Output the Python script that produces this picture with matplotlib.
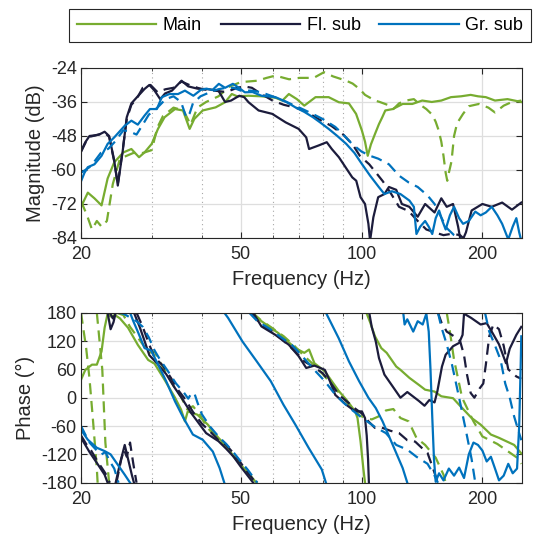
import matplotlib.pyplot as plt
import matplotlib.ticker as ticker
import numpy as np

plt.rcParams['font.family'] = ['Liberation Sans', 'DejaVu Sans']
plt.rcParams['axes.unicode_minus'] = False

nan = np.nan
green = '#77ac30'
navy = '#1c1c3c'
blue = '#0072bd'

# ---- magnitude (Hz, dB) ----
main_mag = np.array([(20,-73),(20.8,-68),(21.6,-70),(22.5,-72.5),(23.3,-63),(24.2,-57.3),(25.5,-53.8),
    (26.7,-52.6),(27.9,-55.5),(28.8,-53.8),(30,-50.8),(31.1,-45.5),(32.3,-41.4),(34.3,-38.5),(35.9,-39),
    (37.3,-45.5),(38.3,-42),(40.2,-39),(43.3,-37.9),(45.7,-36.1),(47.5,-33.2),(49,-34),(52.3,-33.8),
    (56.3,-34),(61,-34.5),(63.5,-35.5),(65.9,-33.2),(69,-35),(72,-37.3),(76.8,-34.3),(82.8,-34.3),
    (87.8,-36.1),(93,-36.5),(96.9,-40.2),(100.2,-46.1),(102,-50),(103.6,-55),(105.5,-51),(108,-47.3),
    (110.5,-43.8),(112.6,-41.4),(114.6,-39),(119.6,-38.5),(126.6,-36.7),(133.8,-36.7),(141.6,-35.5),
    (149.6,-36),(158,-35.5),(167,-34.3),(177,-34),(187,-33.5),(195,-34),(204,-34.3),(215,-35.5),
    (231,-35),(250,-36)])
main_dash_mag = np.array([(20,-71),(20.7,-76),(21.3,-81),(21.9,-78),(22.5,-80),(23.2,-78),(24,-65),
    (25,-56),(27,-54),(28.5,-54),(30,-53),(31,-45),(32,-41),(34,-38),(36,-39),(37.5,-44),(39,-38),
    (41,-36),(44,-34),(47,-30.5),(50,-29),(55,-28.5),(58,-27.5),(61,-26.7),(66,-28),(70,-27.5),
    (76,-27.5),(80.6,-25.5),(85,-27),(91.6,-28.5),(95,-29.5),(99,-31.5),(102,-33.5),(108,-35.5),
    (111,-36),(116,-37),(120,-38.5),(124,-36.5),(129,-35.5),(135,-35),(140,-37),(145,-38.5),
    (150,-40.5),(153,-43),(155.6,-46),(158,-50),(160,-55),(162,-61),(163.5,-63.8),(165,-61),
    (167.5,-57),(170,-48),(173,-43.5),(179,-40.2),(185,-37.5),(196,-36.7),(207,-38),(215,-39.7),
    (226,-37.3),(236,-36.1),(250,-35.5)])
fl_mag = np.array([(20,-53.4),(20.5,-50.2),(21,-48),(21.6,-47.8),(22.2,-47.5),(22.9,-46.5),(23.5,-48),
    (24.2,-56.7),(24.7,-65.5),(25.4,-53.4),(26,-41.4),(26.7,-36.5),(27.7,-34),(28.8,-31.4),(29.6,-30),
    (30.5,-32),(31.5,-35),(32.4,-33),(33.7,-32),(35.6,-28.5),(37,-30.5),(39,-31.3),(41.5,-31.5),
    (44,-32),(45.7,-36),(47.3,-35.5),(49.6,-33.8),(51,-34.3),(52.3,-36.1),(55.4,-39),(59.9,-40.2),
    (64.7,-43.2),(69.7,-45.5),(72.8,-48.5),(74,-52.6),(78,-51.4),(81.9,-50.2),(84.3,-52.6),
    (87.8,-55.5),(94.8,-62.6),(97,-63.8),(99.4,-69.6),(102,-72),(104,-79),(105,-85),(107,-76.7),
    (110,-69.6),(114,-68.5),(117,-66),(122,-67),(126,-72),(131.5,-73),(138,-76.5),(144,-72),
    (152,-75),(158,-70),(163,-73),(169,-72),(174,-80),(177,-86),(182,-82),(188,-74.3),(200,-72),
    (211,-73),(224,-71.5),(237,-74),(250,-71.5)])
fl_dash_mag = np.array([(20,-53.6),(20.5,-50.5),(21,-48.3),(22,-47.6),(22.9,-46.8),(23.5,-48.3),
    (24.2,-57),(24.7,-65),(25.4,-53),(26,-42),(26.7,-37),(27.5,-35),(28.5,-31),(29.8,-30),(31,-32.5),
    (32.5,-31.5),(34,-31),(35.6,-28.8),(37.5,-30.2),(40,-31.5),(43,-32),(46,-32.5),(49,-31),
    (51,-30.5),(53.3,-31),(56,-33),(60,-35.5),(64,-37),(68.5,-38),(73,-39.5),(78,-42),(84,-44.4),
    (90,-47.5),(95,-51),(99,-55),(104.5,-58),(108,-60.5),(113,-64),(118,-68),(124,-73),(131,-74.5),
    (138,-78),(145,-81),(152,-82),(160,-83),(168,-82.5),(176,-83),(182,-85),(190,-86)])
gr_mag = np.array([(20,-64),(20.4,-61),(20.8,-59),(21.6,-58),(22.5,-55),(23.3,-50.8),(24.2,-48.5),
    (25.7,-44.4),(26.7,-42.6),(27.7,-44),(28.8,-40.8),(29.7,-38.5),(30.9,-38.5),(31.8,-34.3),
    (33.2,-33.2),(34.9,-33.2),(36.3,-32),(38.1,-33.8),(39.8,-31.7),(41.1,-31.3),(42.5,-31.8),
    (44.1,-29.6),(45.7,-31),(47.8,-29.6),(49.5,-31),(51.2,-32.6),(53.5,-32.5),(56.3,-33.8),
    (61,-34.3),(65,-36),(68.4,-37.9),(72,-39.5),(75.7,-41.4),(79,-43.3),(82.8,-45.5),(87,-48),
    (91.6,-50.8),(96,-54),(100.2,-57.9),(105,-62),(110.5,-66.1),(114,-68.5),(119,-67.5),(125,-68.5),
    (131.6,-70.8),(135,-73),(137,-82.6),(140,-80),(144,-78),(147,-80),(150,-82.6),(153,-77),
    (156,-74.3),(159,-78),(162,-81),(166,-76),(170,-73),(175,-77),(179,-79),(185,-78),(192,-74.7),
    (198,-76),(204,-75),(211,-73),(218,-76),(224,-79),(232,-84.5),(238,-80),(243,-77),(247,-82),
    (250,-85)])
gr_dash_mag = np.array([(20,-61),(20.5,-60),(21,-59),(21.6,-57),(22.4,-54),(23.4,-52.5),(24.3,-50),
    (25.5,-46),(26.5,-46.5),(27.5,-47.5),(28.5,-44),(29.5,-40.5),(31,-38),(32.5,-35),(34,-34),
    (35.5,-36),(36.6,-41.5),(37.3,-40),(38,-36.5),(39.7,-34),(42,-32.5),(44,-31.5),(46,-31),(48,-31),
    (50,-32),(53,-32),(56,-32.5),(60,-34),(65,-36),(70,-38),(75,-40),(80,-42),(86,-44.8),(90,-47.5),
    (95,-51),(100,-53.5),(105,-55),(110,-56),(117,-58),(124,-62),(131,-64.4),(138,-66),(146,-69),
    (152,-72),(157,-76),(163,-80.5),(170,-83),(180,-85)])

# ---- phase (Hz, deg), wrapped as drawn, nan = break ----
main_ph = np.array([(20,38),(20.5,59),(21.3,70),(21.9,70),(22.5,98),(22.9,148),(23.3,178),(23.7,172),
    (24.3,175),(25,168),(26.2,148),(27.7,112),(29.4,80),(30.5,72),(32.3,38),(34.3,0),(35.5,-25),
    (36.3,-50),(36.9,-29),(39,-36),(41.4,-57),(44,-85),(46.5,-106),(48,-125),(50.5,-146),(54.7,-180),
    (nan,nan),(53,180),(56.3,162),(62,137),(64.7,123),(68.4,105),(72,95),(74,102),(76.3,73),(81,56),
    (84.3,35),(87.8,14),(91.6,-4),(96.4,-29),(97.7,-43),(99.4,-92),(101,-149),(102,-180),
    (nan,nan),(102.8,180),(105,160),(108,130),(112,105),(115.5,95),(122,66),(125,59),(131.6,42),
    (139,27),(144,17),(152,13),(158,3),(169,-1),(175,-15),(188,-43),(198,-57),(210,-78),(220,-85),
    (240,-100),(250,-118)])
main_dash_ph = np.array([(20,180),(20.6,105),(21,40),(21.4,-43),(21.9,-150),(22,-180),
    (nan,nan),(21.9,180),(22.6,59),(23,-95),(23.5,-180),
    (nan,nan),(24.5,180),(25.5,175),(26.5,150),(28,122),(29.5,95),(30.5,98),(31,85),(32.5,55),(34,25),
    (35.5,2),(36.8,-25),(38,-18),(39.5,-35),(41,-60),(43,-80),(45,-98),(47,-115),(49,-130),(52,-158),
    (55,-180),(nan,nan),(53.5,180),(56,165),(60,147),(64,130),(68,110),(72,88),(76,70),(80,50),(84,30),
    (88,10),(92,-10),(96,-25),(99,-38),(102,-42),(106,-46),(110,-40),(115,-27),(120,-24),(125,-43),
    (131,-50),(137,-85),(144,-100),(153,-127),(160,-163),(162,-180),
    (nan,nan),(163,180),(166,140),(170,80),(174,40),(178,0),(190,-50),(200,-82),(218,-98),
    (245,-128),(250,-140)])
fl_ph = np.array([(20,-85),(20.5,-100),(21,-115),(21.9,-138),(22.9,-163),(23.3,-180),
    (nan,nan),(23.3,180),(23.7,145),(24.1,160),(24.4,180),
    (nan,nan),(24.4,-180),(25,-140),(25.7,-100),(26.2,-130),(26.8,-165),(27.1,-180),
    (nan,nan),(27.1,180),(28,150),(28.8,120),(29.6,90),(31,72),(32.6,50),(34.3,20),(35.6,0),(37.6,-32),
    (39.3,-54),(41,-75),(44,-92),(46,-108),(48,-125),(50,-146),(53.7,-180),
    (nan,nan),(53.7,180),(56.3,151),(61,133),(65.9,112),(69.7,88),(72.8,63),(76.3,68),(81,59),
    (83.4,35),(86,6),(91.6,-15),(96.4,-29),(100.2,-29),(102,-43),(103,-80),(103.8,-130),(104.3,-180),
    (nan,nan),(104.5,180),(106,150),(108.5,119),(110.5,84),(114,49),(119.5,24),(125,0),(130,12),
    (139,-7),(143.5,-17),(147.5,-5),(152,-10),(154.5,14),(158.6,66),(162,91),(169,109),(175,116),
    (178.5,133),(180,178),(187.5,169),(198,155),(205,158),(212,137),(220,113),(229,73),(234,104),
    (243,133),(250,150)])
fl_dash_ph = np.array([(20,-80),(20.6,-98),(21.2,-112),(22,-135),(23,-160),(23.6,-180),
    (nan,nan),(23.6,180),(24,168),(24.5,180),
    (nan,nan),(24.5,-180),(25.2,-130),(25.6,-110),(26,-125),(26.5,-95),(27,-140),(27.5,-180),
    (nan,nan),(27.5,180),(28.5,150),(29.5,115),(30.5,85),(32,68),(33.5,42),(35,15),(36.5,-5),
    (38,-30),(40,-55),(42,-72),(44,-90),(46,-100),(48,-118),(50,-138),(52,-158),(54.5,-180),
    (nan,nan),(53,180),(56,156),(60,140),(64,120),(68,100),(72,77),(76,65),(80,52),(84,30),(88,5),
    (92,-8),(96,-22),(100,-33),(104,-50),(108,-64),(112,-63),(118,-70),(124,-75),(130,-90),
    (136,-93),(142,-108),(146,-117),(150,-145),(155,-180),
    (nan,nan),(155,180),(158,160),(163,140),(170,130),(176,120),(180,90),(183,50),(187,10),(191,0),
    (197,20),(201,30),(204,70),(208,130),(213,155),(220,145),(226,110),(232,60),(243,45),(250,40)])
gr_ph = np.array([(20,-68),(20.8,-89),(21.9,-106),(22.9,-113),(23.7,-120),(24.7,-142),(25.7,-163),
    (26.5,-180),(nan,nan),(26.5,180),(27,162),(27.7,140),(28.8,105),(29.9,100),(31,73),(32.6,35),
    (34.3,-8),(36,-43),(38,-78),(40.2,-89),(42.6,-114),(44.3,-149),(45.5,-180),
    (nan,nan),(45.5,180),(46.5,169),(50.5,119),(54.8,77),(59.4,35),(63.9,-15),(68.4,-57),(73.8,-106),
    (79.6,-152),(81.5,-180),(nan,nan),(81.5,180),(87.7,126),(93,77),(98.6,35),(104,0),(108.5,-22),
    (112.8,-50),(119.6,-100),(126.6,-149),(130,-180),
    (nan,nan),(127,180),(128,155),(130,166),(134.5,140),(138,162),(142,155),(145,178),(147,140),
    (148.5,60),(150,-40),(151.5,-130),(153,-178),(156,-160),(160,-175),(165,-150),(170,-165),
    (175,-148),(180,-170),(185,-120),(190,-95),(195,-100),(200,-112),(205,-135),(210,-125),
    (215,-150),(220,-175),(226,-165),(232,-140),(238,-160),(244,-150),(247,-60),(249,60),(250,130)])
gr_dash_ph = np.array([(20,-60),(20.5,-78),(21,-95),(21.8,-110),(22.5,-120),(23,-115),(23.6,-135),
    (24.2,-150),(24.8,-180),(nan,nan),(24.8,180),(25.5,178),(26.5,170),(27.5,162),(28.5,150),
    (29.5,128),(30.5,100),(31.5,80),(33,55),(34.5,30),(36,12),(37,-2),(37.6,8),(38.3,10),(39,-10),
    (40,-35),(42,-62),(44,-82),(46,-98),(48,-116),(50,-135),(52,-152),(55,-180),
    (nan,nan),(52.5,180),(55,162),(59,146),(63,128),(67,112),(70,95),(73,77),(77,55),(81,35),(85,12),
    (90,-10),(95,-27),(100,-42),(104,-52),(108,-62),(115,-75),(122,-100),(130,-110),(137,-125),
    (146,-140),(152,-165),(155,-180),(nan,nan),(155,180),(158,150),(163,113),(168,70),(175,0),
    (182,-70),(188,-130),(192,-180),(nan,nan),(203,180),(208,140),(214,115),(222,80),(228,30),
    (234,0),(240,-40),(250,-90)])

mag_ticks = [-84, -72, -60, -48, -36, -24]
ph_ticks = [-180, -120, -60, 0, 60, 120, 180]
f_ticks = [20, 50, 100, 200]
f_minor = [30, 40, 60, 70, 80, 90]

fig = plt.figure(figsize=(5.34, 5.36), dpi=100)
ax1 = fig.add_axes([0.1517, 0.556, 0.8258, 0.3172])
ax2 = fig.add_axes([0.1517, 0.0994, 0.8258, 0.3172])

lw = 1.6
dash = (0, (5, 3))
series = [(main_mag, main_dash_mag, main_ph, main_dash_ph, green),
          (fl_mag, fl_dash_mag, fl_ph, fl_dash_ph, navy),
          (gr_mag, gr_dash_mag, gr_ph, gr_dash_ph, blue)]
handles = []
for mag, magd, ph, phd, c in series:
    h, = ax1.plot(mag[:, 0], mag[:, 1], color=c, lw=lw)
    ax1.plot(magd[:, 0], magd[:, 1], color=c, lw=lw, ls=dash)
    ax2.plot(ph[:, 0], ph[:, 1], color=c, lw=lw)
    ax2.plot(phd[:, 0], phd[:, 1], color=c, lw=lw, ls=dash)
    handles.append(h)

for ax, ticks, lab in [(ax1, mag_ticks, 'Magnitude (dB)'), (ax2, ph_ticks, 'Phase (°)')]:
    ax.set_xscale('log')
    ax.set_xlim(20, 251)
    ax.set_ylim(ticks[0], ticks[-1])
    ax.set_yticks(ticks)
    ax.set_xticks(f_ticks, labels=[str(t) for t in f_ticks])
    ax.set_xticks(f_minor, minor=True)
    ax.xaxis.set_minor_formatter(ticker.NullFormatter())
    ax.set_axisbelow(True)
    ax.grid(True, which='major', color='#dedede', lw=0.9)
    ax.grid(True, which='minor', axis='x', color='#a8a8a8', lw=0.8, ls=(0, (1, 3)))
    ax.tick_params(which='both', direction='in', top=True, right=True, colors='#262626',
                   labelsize=13)
    ax.tick_params(axis='x', which='both', pad=6)
    ax.tick_params(axis='y', pad=3)
    ax.tick_params(which='major', length=4)
    ax.tick_params(which='minor', length=2.5)
    for s in ax.spines.values():
        s.set_color('#262626')
        s.set_linewidth(0.8)
    ax.set_xlabel('Frequency (Hz)', fontsize=14.5, color='#262626', labelpad=5)
    ax.set_ylabel(lab, fontsize=14.5, color='#262626', labelpad=4)

leg = fig.legend(handles, ['Main', 'Fl. sub', 'Gr. sub'], loc='center',
                 bbox_to_anchor=(0.5618, 0.9524), ncol=3, fontsize=13, handlelength=4.4,
                 handletextpad=0.35, columnspacing=1.05, fancybox=False, edgecolor='#262626',
                 borderpad=0.45, framealpha=1)
leg.get_frame().set_linewidth(0.8)

fig.savefig('out.png', dpi=100)
